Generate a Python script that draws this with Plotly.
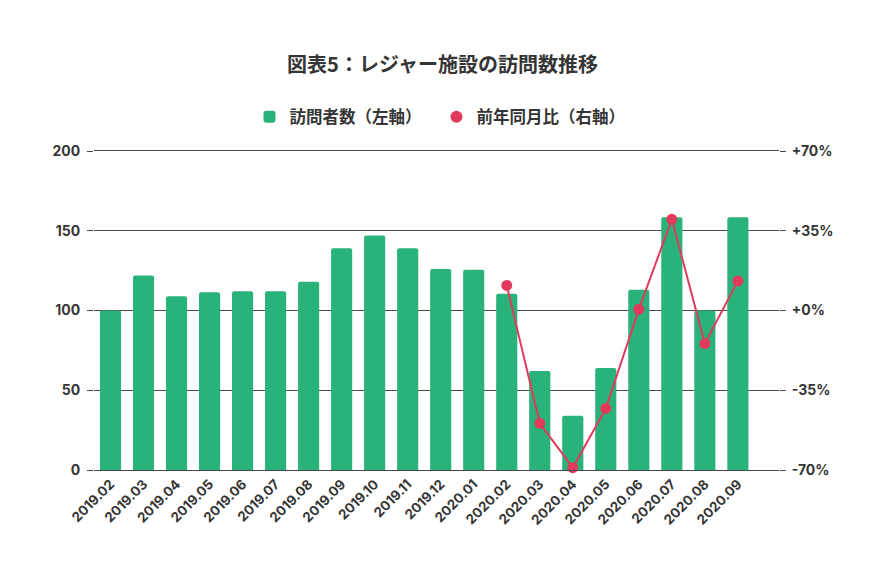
import plotly.graph_objects as go

months = ["2019.02", "2019.03", "2019.04", "2019.05", "2019.06", "2019.07", "2019.08",
          "2019.09", "2019.10", "2019.11", "2019.12", "2020.01", "2020.02", "2020.03",
          "2020.04", "2020.05", "2020.06", "2020.07", "2020.08", "2020.09"]
visitors = [100, 122, 109, 111.5, 112, 112, 118, 139, 147, 139, 126, 125.5, 110.5, 62,
            34, 64, 113, 158.5, 100, 158.5]
yoy_months = ["2020.02", "2020.03", "2020.04", "2020.05", "2020.06", "2020.07", "2020.08", "2020.09"]
yoy = [11, -49.5, -69, -43, 0.5, 40, -14.5, 13]
left_ticks = [0, 50, 100, 150, 200]
right_ticks = [-70, -35, 0, 35, 70]
right_labels = ["-70%", "-35%", "+0%", "+35%", "+70%"]

GREEN = "#2AB27B"
RED = "#E03B5C"
TXT = "#353535"
GRID = "#4a4a4a"
FONT = "Inter, Noto Sans CJK JP"
CJK = "Noto Sans CJK JP"

# page body adds an 8px margin, so the figure is sized to fit inside it
W, H = 869, 565

fig = go.Figure()
fig.add_trace(go.Bar(x=months, y=visitors, name="訪問者数（左軸）",
                     marker=dict(color=GREEN, cornerradius=2, line=dict(width=0)),
                     yaxis="y"))
fig.add_trace(go.Scatter(x=yoy_months, y=yoy, name="前年同月比（右軸）",
                         mode="lines+markers", yaxis="y2", showlegend=False,
                         line=dict(color=RED, width=2),
                         marker=dict(color=RED, size=11), cliponaxis=False))
fig.add_trace(go.Scatter(x=[None], y=[None], name="前年同月比（右軸）", mode="markers",
                         marker=dict(color=RED, size=15, symbol="circle"), yaxis="y2"))

fig.update_layout(
    width=W, height=H,
    margin=dict(l=86, r=98, t=143, b=103),
    paper_bgcolor="white", plot_bgcolor="white",
    font=dict(family=FONT, color=TXT, size=14, weight="bold"),
    title=dict(text="図表5：レジャー施設の訪問数推移", x=0.5, xanchor="center",
               y=1 - 57 / H, yanchor="middle", yref="container",
               font=dict(size=20, family=CJK, color=TXT, weight="bold")),
    legend=dict(orientation="h", x=0.5, xanchor="center", y=1 + 34 / 319, yanchor="middle",
                font=dict(size=16.5, family=CJK, color=TXT, weight="bold"),
                itemsizing="constant", tracegroupgap=0, entrywidth=142,
                entrywidthmode="pixels"),
    bargap=0.36,
    showlegend=True,
    xaxis=dict(type="category", tickangle=-45, showgrid=False,
               showline=True, mirror=True, linecolor=GRID, linewidth=1,
               ticks="", tickfont=dict(size=13.5, family=FONT, color=TXT, weight="bold")),
    yaxis=dict(range=[0, 200], tickvals=left_ticks, showgrid=True, gridcolor=GRID,
               gridwidth=1, zeroline=False,
               ticks="outside", ticklen=6, tickcolor=GRID, tickwidth=1,
               ticklabelstandoff=4,
               showline=False, fixedrange=True,
               tickfont=dict(size=14, family=FONT, color=TXT, weight="bold")),
    yaxis2=dict(range=[-70, 70], tickvals=right_ticks, ticktext=right_labels,
                overlaying="y", side="right", showgrid=False, zeroline=False,
                ticks="outside", ticklen=6, tickcolor=GRID, tickwidth=1,
                ticklabelstandoff=3,
                showline=False,
                tickfont=dict(size=14, family=FONT, color=TXT, weight="bold")),
)

fig.write_html("out.html")
